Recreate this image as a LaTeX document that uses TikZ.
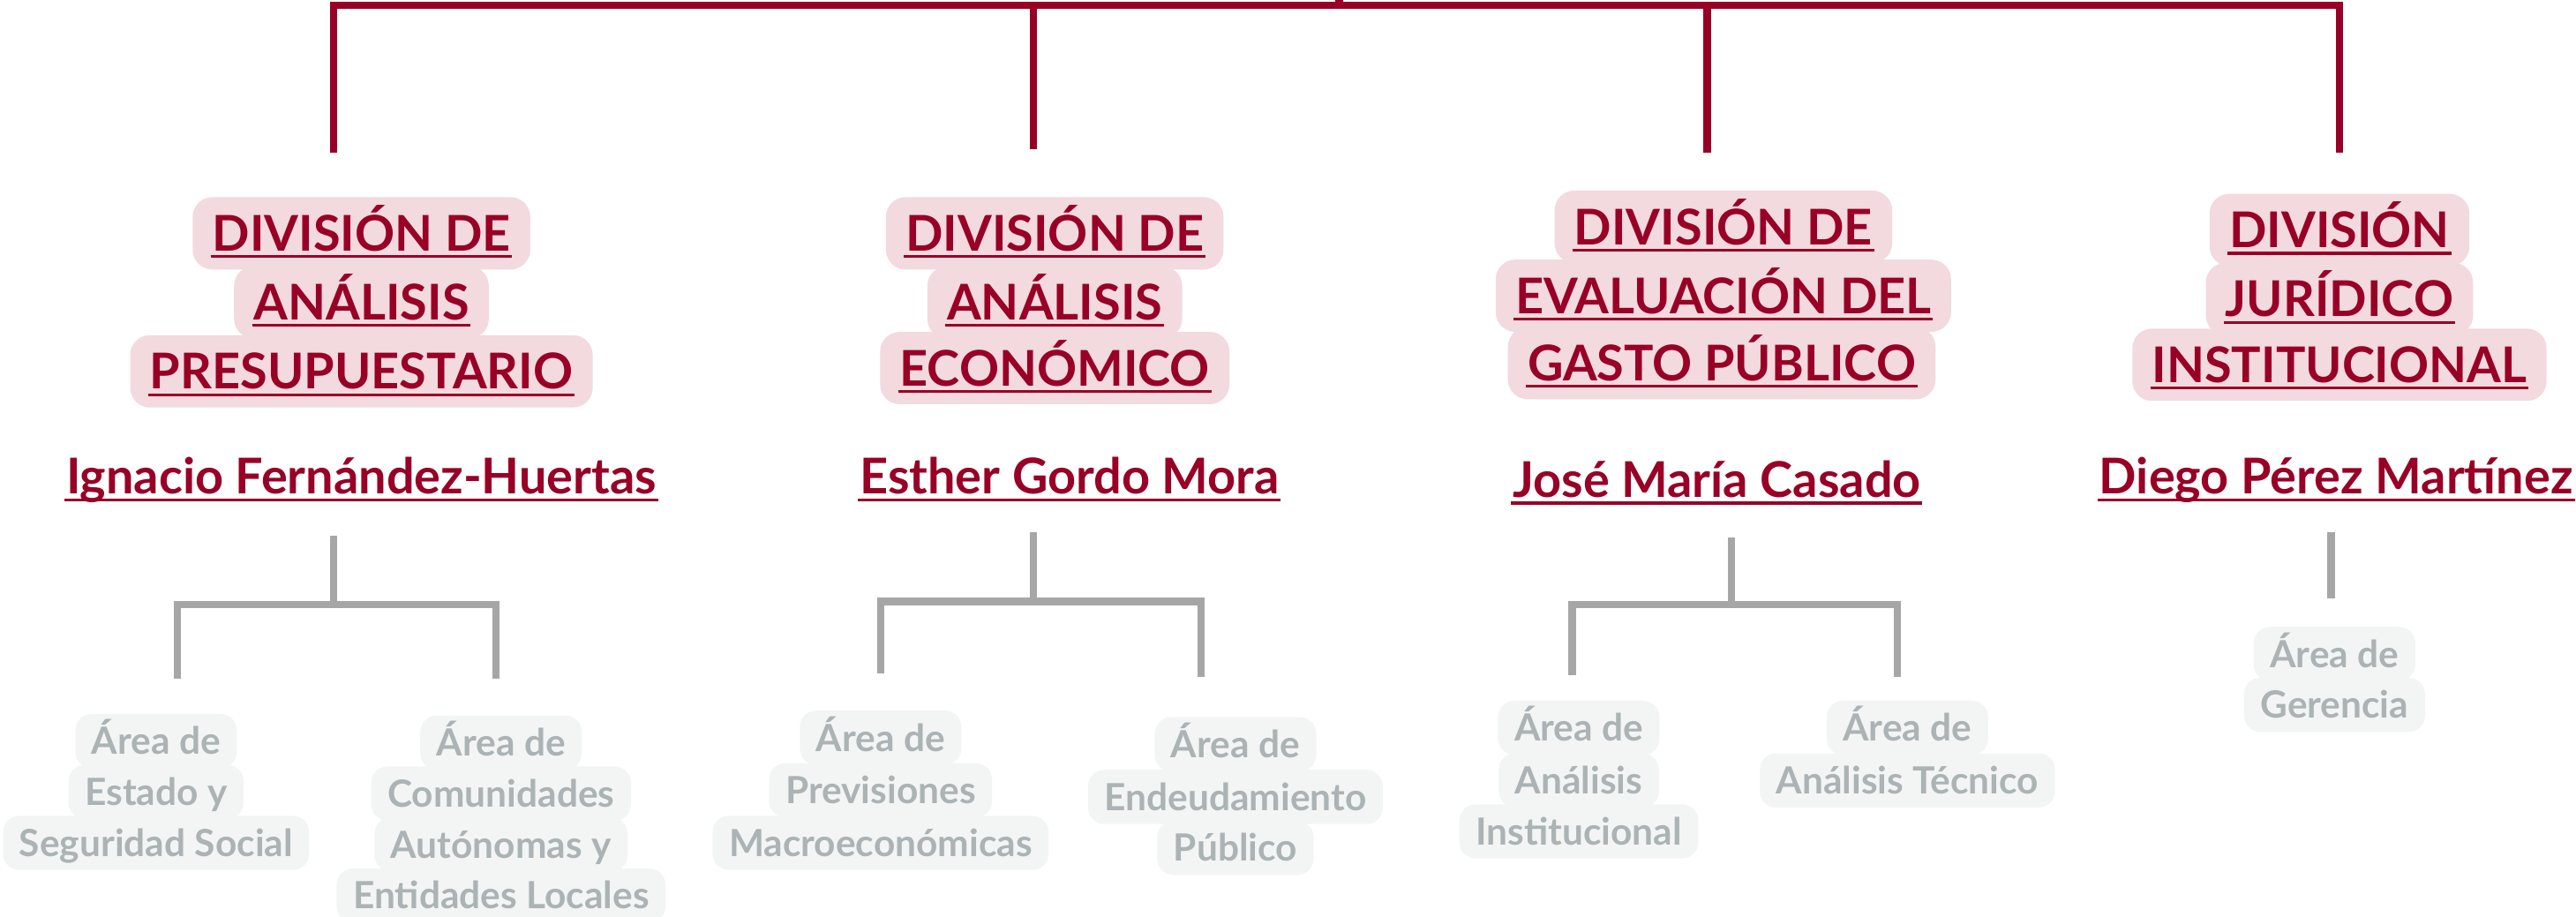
\documentclass[tikz,border=0pt]{standalone}
\usepackage{fontspec}
\setmainfont{Lato}
\definecolor{divred}{HTML}{990026}
\definecolor{pinkbg}{HTML}{F2DADF}
\definecolor{areagrey}{HTML}{ABB3B5}
\definecolor{greybg}{HTML}{F3F5F5}
\definecolor{linegrey}{HTML}{A6A6A6}
\newsavebox\ulbox
\newcommand\myul[1]{\sbox\ulbox{#1}\rlap{\kern-1pt\rule[-0.14em]{\dimexpr\wd\ulbox+2pt\relax}{0.055em}}\usebox\ulbox}
\newcommand\divfont{\bfseries\fontsize{30}{36}\selectfont}
\newcommand\areafont{\bfseries\fontsize{22.8}{31}\selectfont}
\tikzset{
  divl/.style={fill=pinkbg, text=divred, font=\divfont, rounded corners=12pt,
    inner xsep=12pt, inner ysep=0pt, minimum height=44pt, text height=21.6pt, text depth=0pt},
  namel/.style={text=divred, font=\divfont, inner sep=0pt, text height=21.6pt, text depth=0pt},
  areal/.style={fill=greybg, text=areagrey, font=\areafont, rounded corners=10pt,
    inner xsep=10pt, inner ysep=0pt, minimum height=33pt, text height=16.4pt, text depth=0pt},
  redline/.style={draw=divred, line width=4.6pt},
  greyline/.style={draw=linegrey, line width=4.6pt}
}
\begin{document}
\begin{tikzpicture}[x=1pt,y=-1pt]
\useasboundingbox (0,0) rectangle (1568,558);
\fill[white] (0,0) rectangle (1568,558);
% ---- top red connectors
\coordinate (up) at (815,-6);
\coordinate (top) at (815,3.2);
\coordinate (b1) at (203,93);
\coordinate (b2) at (629,91);
\coordinate (b3) at (1039,93);
\coordinate (b4) at (1424,93);
\draw[redline] (up) -- (top);
\draw[redline, line join=miter] (b1) -- (b1|-top) -- (b4|-top) -- (b4);
\draw[redline] (b2|-top) -- (b2);
\draw[redline] (b3|-top) -- (b3);
% ---- divisions
\node[divl] (d1a) at (220,142) {\myul{DIVISIÓN DE}};
\node[divl] (d1b) at (220,184) {\myul{ANÁLISIS}};
\node[divl] (d1c) at (220,226) {\myul{PRESUPUESTARIO}};
\node[namel] (n1) at (220,290) {\myul{Ignacio Fernández-Huertas}};

\node[divl] (d2a) at (642,142) {\myul{DIVISIÓN DE}};
\node[divl] (d2b) at (642,184) {\myul{ANÁLISIS}};
\node[divl] (d2c) at (642,224) {\myul{ECONÓMICO}};
\node[namel] (n2) at (651,290) {\myul{Esther Gordo Mora}};

\node[divl] (d3a) at (1049,138) {\myul{DIVISIÓN DE}};
\node[divl] (d3b) at (1049,180) {\myul{EVALUACIÓN DEL}};
\node[divl] (d3c) at (1048,221) {\myul{GASTO PÚBLICO}};
\node[namel] (n3) at (1045,292) {\myul{José María Casado}};

\node[divl] (d4a) at (1424,140) {\myul{DIVISIÓN}};
\node[divl] (d4b) at (1424,182) {\myul{JURÍDICO}};
\node[divl] (d4c) at (1424,222) {\myul{INSTITUCIONAL}};
\node[namel] (n4) at (1422,290) {\myul{Diego Pérez Martínez}};
% ---- grey connectors
\coordinate (s1) at (203,326);
\coordinate (j1) at (203,368);
\coordinate (c1a) at (108,413);
\coordinate (c1b) at (302,413);
\draw[greyline] (s1) -- (j1);
\draw[greyline, line join=miter] (c1a) -- (c1a|-j1) -- (c1b|-j1) -- (c1b);

\coordinate (s2) at (629,324);
\coordinate (j2) at (629,366);
\coordinate (c2a) at (536,410);
\coordinate (c2b) at (731,412);
\draw[greyline] (s2) -- (j2);
\draw[greyline, line join=miter] (c2a) -- (c2a|-j2) -- (c2b|-j2) -- (c2b);

\coordinate (s3) at (1054,327);
\coordinate (j3) at (1054,368);
\coordinate (c3a) at (957,411);
\coordinate (c3b) at (1155,412);
\draw[greyline] (s3) -- (j3);
\draw[greyline, line join=miter] (c3a) -- (c3a|-j3) -- (c3b|-j3) -- (c3b);

\coordinate (s4) at (1419,324);
\coordinate (e4) at (1419,364);
\draw[greyline] (s4) -- (e4);
% ---- areas
\node[areal] (a1a1) at (95,451) {Área de};
\node[areal] (a1a2) at (95,482) {Estado y};
\node[areal] (a1a3) at (95,513) {Seguridad Social};

\node[areal] (a1b1) at (305,452) {Área de};
\node[areal] (a1b2) at (305,483) {Comunidades};
\node[areal] (a1b3) at (305,514) {Autónomas y};
\node[areal] (a1b4) at (305,545) {Entidades Locales};

\node[areal] (a2a1) at (536,449) {Área de};
\node[areal] (a2a2) at (536,481) {Previsiones};
\node[areal] (a2a3) at (536,513) {Macroeconómicas};

\node[areal] (a2b1) at (752,453) {Área de};
\node[areal] (a2b2) at (752,485) {Endeudamiento};
\node[areal] (a2b3) at (752,516) {Público};

\node[areal] (a3a1) at (961,443) {Área de};
\node[areal] (a3a2) at (961,475) {Análisis};
\node[areal] (a3a3) at (961,506) {Institucional};

\node[areal] (a3b1) at (1161,443) {Área de};
\node[areal] (a3b2) at (1161,475) {Análisis Técnico};

\node[areal] (a41) at (1421,398) {Área de};
\node[areal] (a42) at (1421,429) {Gerencia};
\end{tikzpicture}
\end{document}
